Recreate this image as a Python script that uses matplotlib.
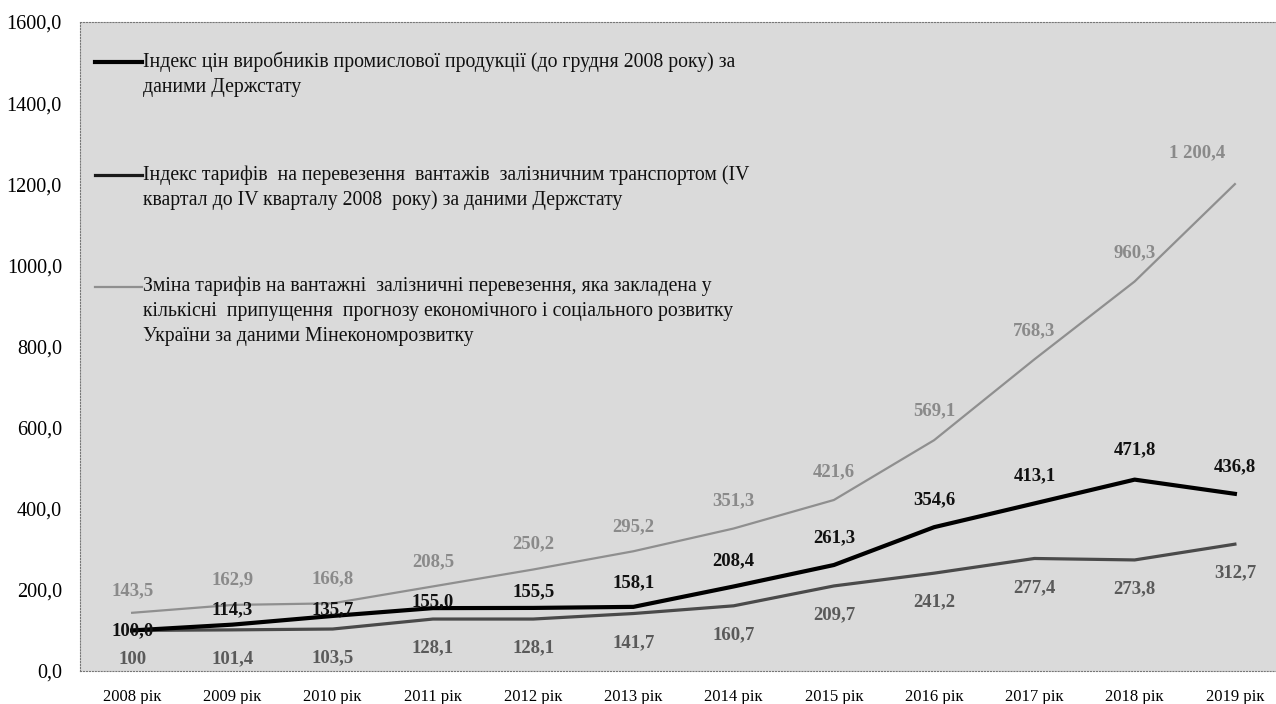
import matplotlib
matplotlib.use("Agg")
import matplotlib.pyplot as plt
from matplotlib.lines import Line2D

plt.rcParams['font.family'] = ['Liberation Serif', 'DejaVu Serif']

# Data
years = ['2008 рік', '2009 рік', '2010 рік', '2011 рік', '2012 рік', '2013 рік',
         '2014 рік', '2015 рік', '2016 рік', '2017 рік', '2018 рік', '2019 рік']
producer_index = [100.0, 114.3, 135.7, 155.0, 155.5, 158.1, 208.4, 261.3, 354.6, 413.1, 471.8, 436.8]
rail_tariff_index = [100.0, 101.4, 103.5, 128.1, 128.1, 141.7, 160.7, 209.7, 241.2, 277.4, 273.8, 312.7]
forecast_tariff = [143.5, 162.9, 166.8, 208.5, 250.2, 295.2, 351.3, 421.6, 569.1, 768.3, 960.3, 1200.4]

legend_labels = [
    'Індекс цін виробників промислової продукції (до грудня 2008 року) за\nданими Держстату',
    'Індекс тарифів  на перевезення  вантажів  залізничним транспортом (IV\nквартал до IV кварталу 2008  року) за даними Держстату',
    'Зміна тарифів на вантажні  залізничні перевезення, яка закладена у\nкількісні  припущення  прогнозу економічного і соціального розвитку\nУкраїни за даними Мінекономрозвитку',
]


def fmt(v, sep=True):
    s = '{:,.1f}'.format(v) if sep else '{:.1f}'.format(v)
    return s.replace(',', ' ').replace('.', ',')


# label offsets in pixels (dx, dy)
producer_offsets = [(0, 0), (0, 15), (0, 6), (0, 6), (0, 16), (0, 24),
                    (0, 26), (0, 27), (0, 27), (0, 28), (0, 30), (0, 27)]
rail_offsets = [(0, -29)] * 12
forecast_offsets = [(0, 22), (0, 25), (0, 25), (0, 25), (0, 26), (0, 25),
                    (0, 28), (0, 28), (0, 29), (0, 29), (0, 29), (-38, 31)]

fig = plt.figure(figsize=(12.76, 7.04), dpi=100)
ax = fig.add_axes([80 / 1276, 33 / 704, 1196 / 1276, 649 / 704])
ax.set_facecolor('#dadada')

x = list(range(len(years)))
c_black = '#000000'
c_dark = '#4a4a4a'
c_light = '#8f8f8f'

ax.plot(x, forecast_tariff, color=c_light, lw=1.6, zorder=2)
ax.plot(x, rail_tariff_index, color=c_dark, lw=2.3, zorder=3)
ax.plot(x, producer_index, color=c_black, lw=3.0, zorder=4)

lab_size = 13.5
for i, v in enumerate(forecast_tariff):
    ax.annotate(fmt(v), (i, v), xytext=forecast_offsets[i], textcoords='offset pixels',
                ha='center', va='center', fontsize=lab_size, fontweight='bold', color='#8a8a8a', zorder=5)
for i, v in enumerate(rail_tariff_index):
    txt = '100' if i == 0 else fmt(v)
    ax.annotate(txt, (i, v), xytext=rail_offsets[i], textcoords='offset pixels',
                ha='center', va='center', fontsize=lab_size, fontweight='bold', color='#5a5a5a', zorder=5)
for i, v in enumerate(producer_index):
    ax.annotate(fmt(v), (i, v), xytext=producer_offsets[i], textcoords='offset pixels',
                ha='center', va='center', fontsize=lab_size, fontweight='bold', color='#111111', zorder=5)

# manual legend (handle aligned with first text line)
leg_y = [0.938, 0.764, 0.592]
leg_colors = [c_black, '#1a1a1a', c_light]
leg_widths = [3.0, 2.3, 1.6]
for yy, col, lw, lab in zip(leg_y, leg_colors, leg_widths, legend_labels):
    ax.add_line(Line2D([0.0125, 0.052], [yy, yy], transform=ax.transAxes, color=col, lw=lw))
    ax.text(0.053, yy + 0.016, lab, transform=ax.transAxes, ha='left', va='top', fontsize=14.2,
            linespacing=1.42, color='#111111')

ax.set_xlim(-0.52, 11.41)
ax.set_ylim(0, 1600)
ax.set_xticks(x)
ax.set_xticklabels(years, fontsize=12)
ax.set_yticks(range(0, 1601, 200))
ax.set_yticklabels([fmt(t, sep=False) for t in range(0, 1601, 200)], fontsize=14.5)
ax.tick_params(axis='both', length=0)
ax.tick_params(axis='x', pad=13)
ax.tick_params(axis='y', pad=13)

for side in ['left', 'bottom', 'top']:
    ax.spines[side].set_linestyle(':')
    ax.spines[side].set_color('#777777')
    ax.spines[side].set_linewidth(0.8)
ax.spines['right'].set_visible(False)

fig.savefig('out.png', dpi=100)
